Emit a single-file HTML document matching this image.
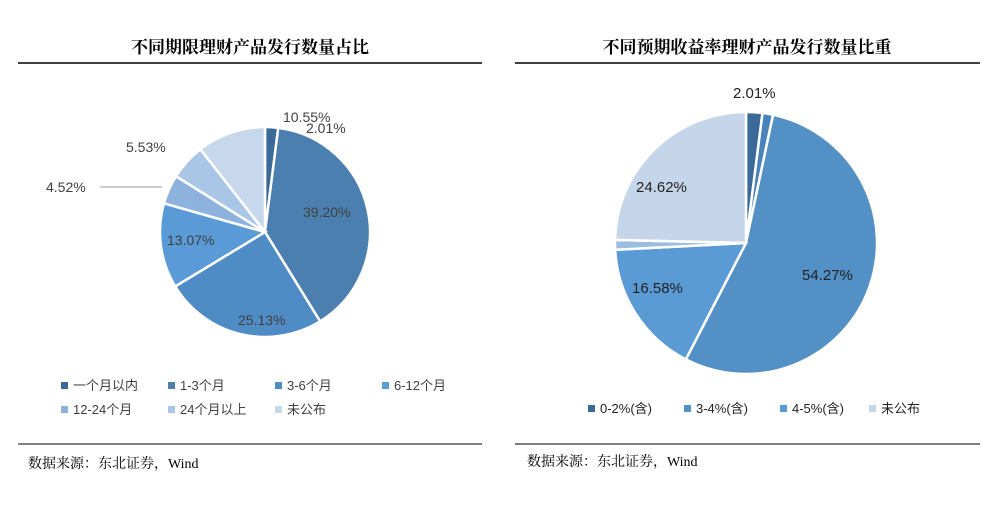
<!DOCTYPE html>
<html><head><meta charset="utf-8"><style>
body{margin:0;background:#fff;width:1000px;height:516px;overflow:hidden;font-family:"Liberation Sans","Noto Sans CJK SC",sans-serif}
</style></head><body>
<svg width="1000" height="516" xmlns="http://www.w3.org/2000/svg">
<g font-family="'Liberation Serif','Noto Serif CJK SC',serif" font-weight="bold" font-size="17" fill="#000">
<text x="250" y="53" text-anchor="middle">不同期限理财产品发行数量占比</text>
<text x="747" y="53" text-anchor="middle">不同预期收益率理财产品发行数量比重</text>
</g>
<line x1="18" y1="63" x2="482" y2="63" stroke="#000" stroke-width="1.5"/>
<line x1="515" y1="63" x2="980" y2="63" stroke="#000" stroke-width="1.5"/>
<line x1="18" y1="444" x2="482" y2="444" stroke="#000" stroke-width="1"/>
<line x1="515" y1="444" x2="980" y2="444" stroke="#000" stroke-width="1"/>
<g font-family="'Liberation Serif','Noto Serif CJK SC',serif" font-size="14" fill="#000">
<text x="28" y="468">数据来源：东北证券，Wind</text>
<text x="527" y="466">数据来源：东北证券，Wind</text>
</g>
<g id="left"></g><g id="right"></g>
<g font-size="14" fill="#404040">
<line x1="100" y1="187" x2="162" y2="187" stroke="#999"/>
<text x="283" y="122">10.55%</text>
<text x="306" y="133">2.01%</text>
<text x="303" y="217">39.20%</text>
<text x="167" y="245">13.07%</text>
<text x="238" y="325">25.13%</text>
<text x="46" y="192">4.52%</text>
<text x="126" y="152">5.53%</text>
</g>
<g font-size="15" fill="#222">
<text x="733" y="98">2.01%</text>
<text x="636" y="192">24.62%</text>
<text x="802" y="280">54.27%</text>
<text x="632" y="293">16.58%</text>
</g>
<g id="legL" font-size="13" fill="#404040"></g>
<g id="legR" font-size="13" fill="#222"></g>
</svg>
<script>
const leftCats=["一个月以内","1-3个月","3-6个月","6-12个月","12-24个月","24个月以上","未公布"];
const leftVals=[2.01,39.20,25.13,13.07,4.52,5.53,10.55];
const leftColors=["#3b6a98","#4a7fb0","#4f8bc4","#5a9ad6","#8eb2de","#aac6e6","#c7d7ec"];
const rightCats=["0-2%(含)","2-3%(含)","3-4%(含)","4-5%(含)","5%以上","未公布"];
const rightVals=[2.01,1.3,54.27,16.58,1.2,24.62];
const rightColors=["#3b6a98","#4a82bb","#5390c6","#5b9bd5","#9dbde0","#c5d5ea"];
const rightLegendIdx=[0,2,3,5];
const NS="http://www.w3.org/2000/svg";
function pie(g,vals,colors,cx,cy,r,prefix){
  const tot=vals.reduce((a,b)=>a+b,0);let a=0;
  vals.forEach((v,i)=>{
    const a0=a/tot*2*Math.PI, a1=(a+v)/tot*2*Math.PI; a+=v;
    const x0=cx+r*Math.sin(a0),y0=cy-r*Math.cos(a0),x1=cx+r*Math.sin(a1),y1=cy-r*Math.cos(a1);
    const p=document.createElementNS(NS,"path");
    p.setAttribute("d",`M${cx},${cy}L${x0},${y0}A${r},${r} 0 ${a1-a0>Math.PI?1:0} 1 ${x1},${y1}Z`);
    p.setAttribute("fill",colors[i]);p.setAttribute("stroke","#fff");p.setAttribute("stroke-width","2.5");
    
    
    g.appendChild(p);
  });
}
pie(document.getElementById("left"),leftVals,leftColors,265,232,105,"left");
pie(document.getElementById("right"),rightVals,rightColors,746,243,131,"right");
function leg(g,x,y,text,color,name){
  const r=document.createElementNS(NS,"rect");
  r.setAttribute("x",x);r.setAttribute("y",y-8);r.setAttribute("width",7);r.setAttribute("height",7);r.setAttribute("fill",color);
  
  
  g.appendChild(r);
  const t=document.createElementNS(NS,"text");
  t.setAttribute("x",x+12);t.setAttribute("y",y);t.textContent=text;
  
  
  g.appendChild(t);
}
const lg=document.getElementById("legL");
const lpos=[[61,390],[168,390],[275,390],[382,390],[61,414],[168,414],[275,414]];
leftCats.forEach((c,i)=>leg(lg,lpos[i][0],lpos[i][1],c,leftColors[i],'left-legend-entry-'+i));
const rg=document.getElementById("legR");
const rpos=[588,684,780,869];
rightLegendIdx.forEach((idx,k)=>leg(rg,rpos[k],413,rightCats[idx],rightColors[idx],'right-legend-entry-'+k));
</script>
</body></html>
